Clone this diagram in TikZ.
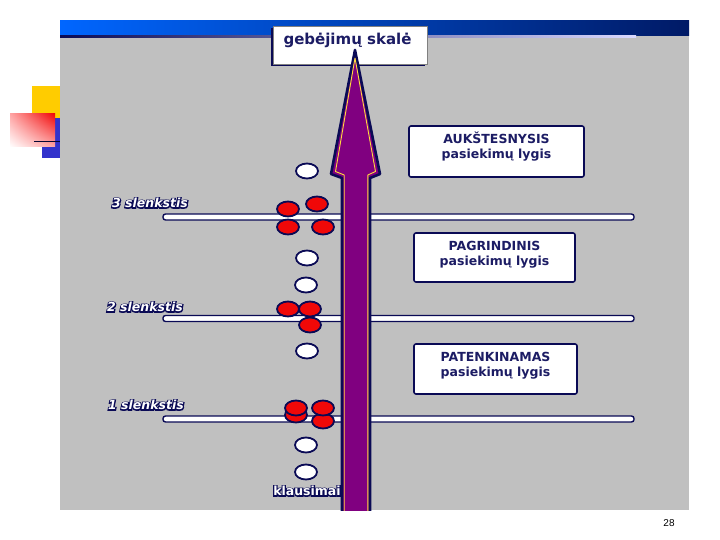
\documentclass[tikz,border=0pt]{standalone}
\usepackage{fontspec}
\setmainfont{DejaVu Sans}
\setsansfont{Liberation Sans}
\newfontfamily\labelfontI{DejaVu Sans Bold Oblique}
\newfontfamily\labelfontIo[FakeBold=18]{DejaVu Sans Bold Oblique}
\newfontfamily\labelfontU{DejaVu Sans Bold}
\newfontfamily\labelfontUo[FakeBold=18]{DejaVu Sans Bold}
\usetikzlibrary{shapes.geometric,shadings}
\definecolor{navy}{RGB}{10,10,85}
\definecolor{txtnavy}{RGB}{28,28,100}
\definecolor{panelgray}{RGB}{192,192,192}
\definecolor{arrowpurple}{RGB}{128,0,128}
\definecolor{barblueA}{RGB}{0,102,255}
\definecolor{barblueB}{RGB}{0,26,102}
\definecolor{sqyellow}{RGB}{255,204,0}
\definecolor{sqblue}{RGB}{51,51,204}
\definecolor{dotred}{RGB}{240,8,8}
\definecolor{arrowyellow}{RGB}{255,220,60}
\newcommand\outlabel[3]{\leavevmode\rlap{\textcolor{navy}{#1#3}}\textcolor{white}{#2#3}}
\tikzset{
  dot/.style={ellipse, draw=navy, line width=1.8pt, minimum width=22pt, minimum height=15pt, inner sep=0pt},
  whitedot/.style={dot, fill=white},
  reddot/.style={dot, fill=dotred},
  levelbox/.style={draw=navy, line width=1.6pt, fill=white, rounded corners=2pt, inner sep=0pt},
  leveltext/.style={text=txtnavy, align=center, font=\bfseries\fontsize{12.5}{15}\selectfont},
  threshold/.style={draw=navy, line width=1.4pt, fill=white, rounded corners=2.5pt},
  thresholdlabel/.style={font=\labelfontI\fontsize{12.5}{15}\selectfont, inner sep=0pt},
}
\begin{document}
\begin{tikzpicture}[x=1pt,y=-1pt]
\useasboundingbox (0,0) rectangle (720,540);
\fill[white] (0,0) rectangle (720,540);
% decorative squares
\fill[sqyellow] (32,86) rectangle (60,118);
\fill[sqblue] (42,118) rectangle (60,158);
\shade[upper right=dotred, lower left=white, upper left=red!35!white, lower right=red!35!white] (10,114) rectangle (55,147);
\draw[navy!60!black, line width=1.6pt] (34,141.5) -- (60,141.5);
% panel
\fill[panelgray] (60,21) rectangle (689,510);
\shade[left color=barblueA, right color=barblueB] (60,21) rectangle (689,36);
\shade[left color=navy, right color=blue!15!white] (60,35.5) rectangle (636,37.5);
% title box
\fill[navy] (271,28) rectangle (425,66);
\node[draw=gray, line width=0.6pt, fill=white, minimum width=154pt, minimum height=38pt, inner sep=0pt] (title) at (350,45) {};
\node[text=txtnavy, font=\bfseries\fontsize{15}{18}\selectfont, inner sep=0pt] (titletext) at (347.5,40) {gebėjimų skalė};
% threshold lines
\draw[threshold] (163,214) rectangle (634,220);
\draw[threshold] (163,315.5) rectangle (634,321.5);
\draw[threshold] (163,416) rectangle (634,422);
\coordinate (t3) at (163,217);
\coordinate (t2) at (163,318.5);
\coordinate (t1) at (163,419);
% arrow
\begin{scope}
\clip (60,21) rectangle (689,510);
\draw[navy, line width=2.6pt, fill=arrowpurple, line join=round]
  (355,50) -- (380,174) -- (370,178) -- (370,520) -- (342,520) -- (342,178) -- (331,174) -- cycle;
\draw[arrowyellow, line width=0.9pt, line join=round]
  (355,58) -- (375.5,171.5) -- (367.8,175) -- (367.8,520) -- (344.2,520) -- (344.2,175) -- (335.5,171.5) -- cycle;
\end{scope}
% labels
\node[thresholdlabel] (l3) at (150,203) {\outlabel{\labelfontIo}{\labelfontI}{3 slenkstis}};
\node[thresholdlabel] (l2) at (145,307) {\outlabel{\labelfontIo}{\labelfontI}{2 slenkstis}};
\node[thresholdlabel] (l1) at (146,405) {\outlabel{\labelfontIo}{\labelfontI}{1 slenkstis}};
\node[font=\labelfontU\fontsize{12.5}{15}\selectfont, inner sep=0pt] (kl) at (307,491) {\outlabel{\labelfontUo}{\labelfontU}{klausimai}};
% dots
\node[whitedot] (w1) at (307,171) {};
\node[reddot] (r31) at (288,209) {};
\node[reddot] (r32) at (317,204) {};
\node[reddot] (r33) at (288,227) {};
\node[reddot] (r34) at (323,227) {};
\node[whitedot] (w2) at (307,258) {};
\node[whitedot] (w3) at (306,285) {};
\node[reddot] (r21) at (288,309) {};
\node[reddot] (r22) at (310,309) {};
\node[reddot] (r23) at (310,325) {};
\node[whitedot] (w4) at (307,351) {};
\node[reddot] (r11b) at (296,415) {};
\node[reddot] (r11) at (296,408) {};
\node[reddot] (r12b) at (323,421) {};
\node[reddot] (r12) at (323,408) {};
\node[whitedot] (w5) at (306,445) {};
\node[whitedot] (w6) at (306,472) {};
% level boxes
\node[levelbox, minimum width=175pt, minimum height=51pt] (b3) at (496.5,151.5) {};
\node[leveltext] (b3t) at (496.5,147) {AUKŠTESNYSIS\\pasiekimų lygis};
\node[levelbox, minimum width=161pt, minimum height=49pt] (b2) at (494.5,257.5) {};
\node[leveltext] (b2t) at (494.5,255) {PAGRINDINIS\\pasiekimų lygis};
\node[levelbox, minimum width=163pt, minimum height=50pt] (b1) at (495.5,369) {};
\node[leveltext] (b1t) at (495.5,366) {PATENKINAMAS\\pasiekimų lygis};
% page number
\node[font=\sffamily\fontsize{10}{12}\selectfont, inner sep=0pt] (pg) at (669,523) {28};
\end{tikzpicture}
\end{document}
